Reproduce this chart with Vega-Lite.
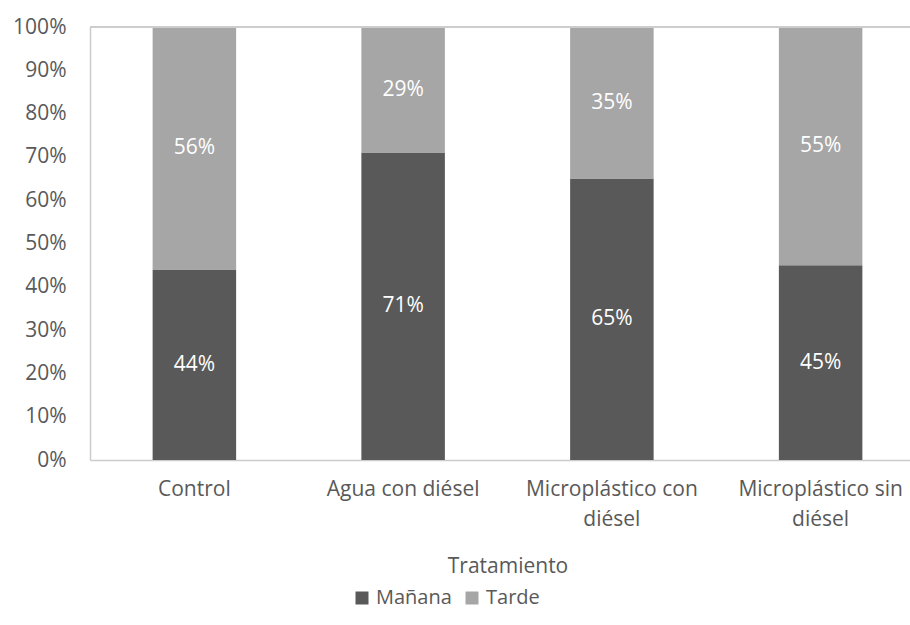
{
  "$schema": "https://vega.github.io/schema/vega-lite/v6.json",
  "width": 835,
  "height": 433,
  "autosize": {"type": "none"},
  "padding": {"left": 90, "top": 27, "right": 0, "bottom": 165},
  "background": "white",
  "config": {
    "view": {"stroke": null},
    "font": "Open Sans",
    "axis": {"labelFont": "Open Sans", "titleFont": "Open Sans", "labelColor": "#595959", "titleColor": "#595959", "labelFontSize": 21, "titleFontSize": 21, "titleFontWeight": "normal", "ticks": false, "grid": false, "domainColor": "#CCCCCC", "domainWidth": 1.5},
    "legend": {"labelFont": "Open Sans", "labelColor": "#595959", "labelFontSize": 20}
  },
  "data": {
    "values": [
      {"tratamiento": "Control", "periodo": "Mañana", "valor": 44, "etiqueta": "44%"},
      {"tratamiento": "Control", "periodo": "Tarde", "valor": 56, "etiqueta": "56%"},
      {"tratamiento": "Agua con diésel", "periodo": "Mañana", "valor": 71, "etiqueta": "71%"},
      {"tratamiento": "Agua con diésel", "periodo": "Tarde", "valor": 29, "etiqueta": "29%"},
      {"tratamiento": "Microplástico con diésel", "periodo": "Mañana", "valor": 65, "etiqueta": "65%"},
      {"tratamiento": "Microplástico con diésel", "periodo": "Tarde", "valor": 35, "etiqueta": "35%"},
      {"tratamiento": "Microplástico sin diésel", "periodo": "Mañana", "valor": 45, "etiqueta": "45%"},
      {"tratamiento": "Microplástico sin diésel", "periodo": "Tarde", "valor": 55, "etiqueta": "55%"}
    ]
  },
  "layer": [
    {
      "mark": {"type": "bar"},
      "encoding": {
        "x": {
          "field": "tratamiento",
          "type": "nominal",
          "sort": ["Control", "Agua con diésel", "Microplástico con diésel", "Microplástico sin diésel"],
          "scale": {"paddingInner": 0.6, "paddingOuter": 0.3},
          "axis": {
            "title": "Tratamiento",
            "labelAngle": 0,
            "labelPadding": 18,
            "labelLineHeight": 30,
            "titlePadding": 26,
            "labelExpr": "datum.value == 'Microplástico con diésel' ? ['Microplástico con', 'diésel'] : datum.value == 'Microplástico sin diésel' ? ['Microplástico sin', 'diésel'] : datum.value"
          }
        },
        "y": {
          "field": "valor",
          "type": "quantitative",
          "stack": "normalize",
          "axis": {"title": null, "format": ".0%", "values": [0, 0.1, 0.2, 0.3, 0.4, 0.5, 0.6, 0.7, 0.8, 0.9, 1], "labelPadding": 24}
        },
        "order": {"field": "periodo", "sort": "ascending"},
        "color": {
          "field": "periodo",
          "type": "nominal",
          "scale": {"domain": ["Mañana", "Tarde"], "range": ["#595959", "#A6A6A6"]},
          "legend": {"title": null, "orient": "none", "direction": "horizontal", "legendX": 262, "legendY": 561, "symbolType": "square", "symbolSize": 169, "symbolStrokeWidth": 0, "columnPadding": 10, "labelOffset": 4}
        }
      }
    },
    {
      "mark": {"type": "text", "color": "white", "fontSize": 21, "font": "Open Sans"},
      "encoding": {
        "x": {
          "field": "tratamiento",
          "type": "nominal",
          "sort": ["Control", "Agua con diésel", "Microplástico con diésel", "Microplástico sin diésel"]
        },
        "y": {"field": "valor", "type": "quantitative", "stack": "normalize", "bandPosition": 0.5},
        "order": {"field": "periodo", "sort": "ascending"},
        "detail": {"field": "periodo", "type": "nominal"},
        "text": {"field": "etiqueta", "type": "nominal"}
      }
    },
    {
      "mark": {"type": "rule", "color": "#CCCCCC", "strokeWidth": 1.5},
      "encoding": {"y": {"datum": 1}}
    }
  ]
}
